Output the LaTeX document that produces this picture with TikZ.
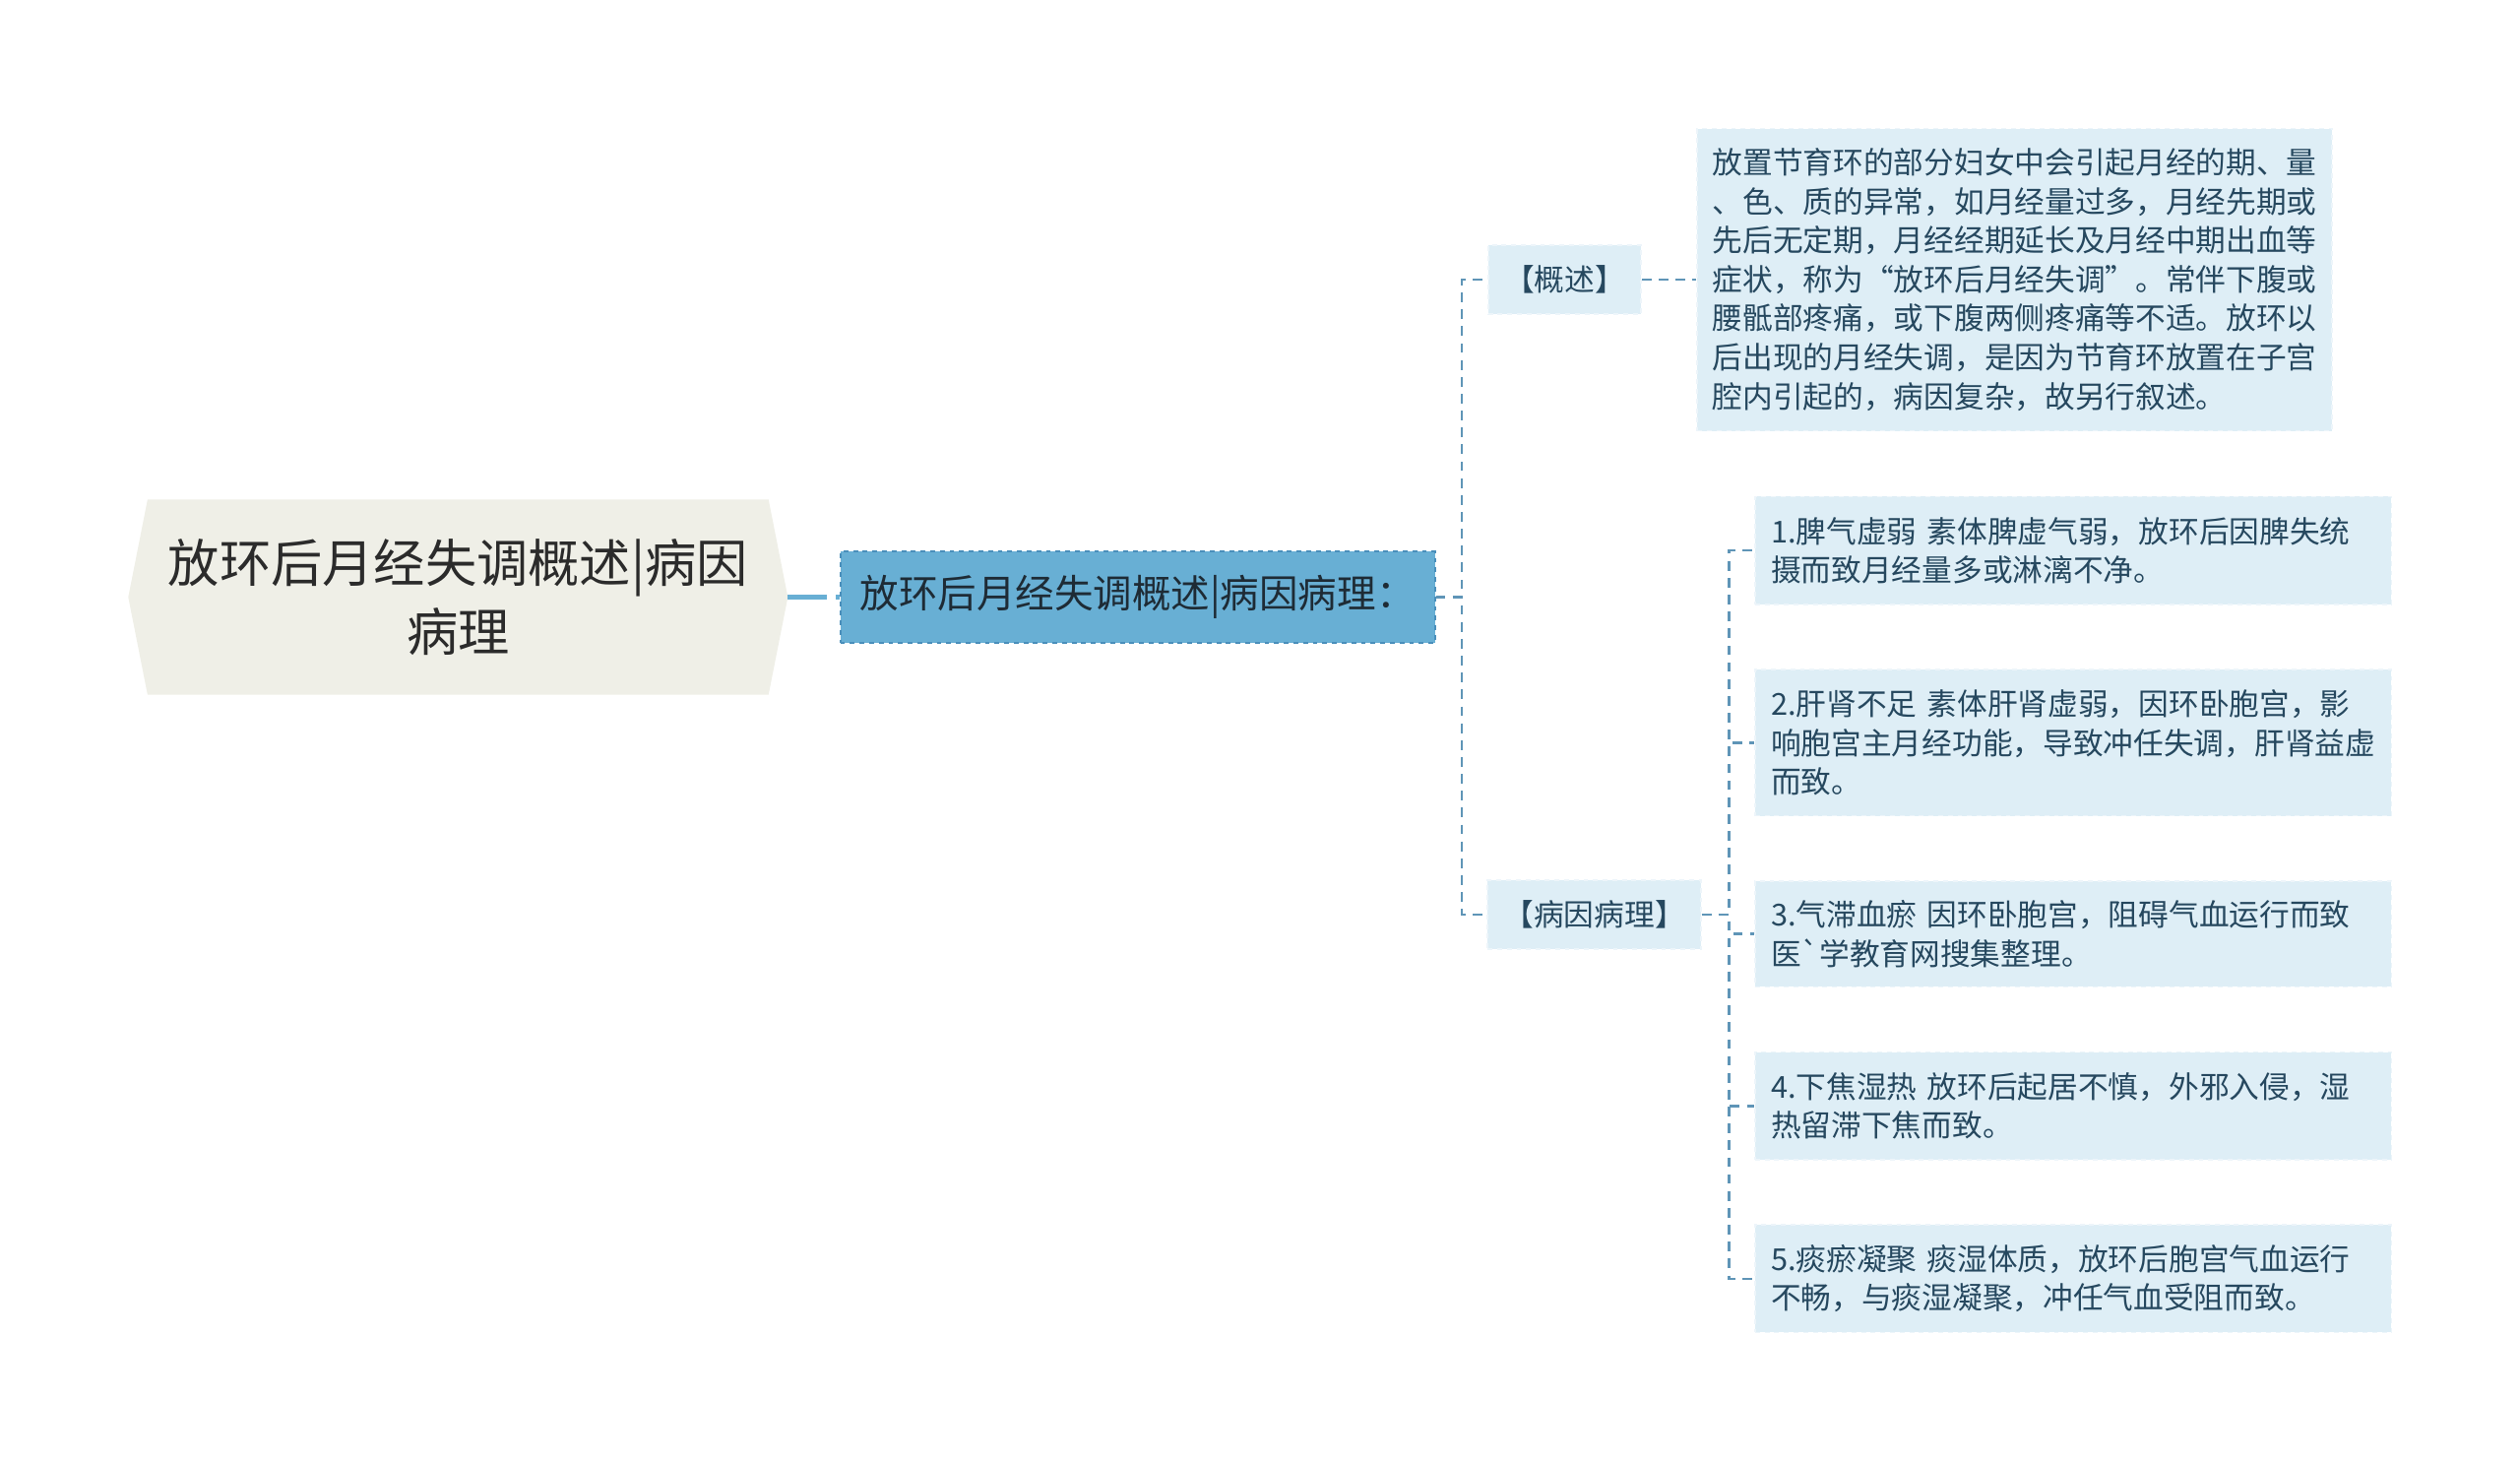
\documentclass[tikz,border=0pt]{standalone}
\usepackage{fontspec}
\setmainfont{Noto Sans CJK SC}
\usetikzlibrary{positioning, backgrounds}

\definecolor{rootfill}{HTML}{EFEFE7}
\definecolor{roottext}{HTML}{2B2B2B}
\definecolor{mainfill}{HTML}{68AFD4}
\definecolor{mainedge}{HTML}{4A8FBB}
\definecolor{maintext}{HTML}{1E2B35}
\definecolor{leaffill}{HTML}{DEEEF6}
\definecolor{leafedge}{HTML}{EDF5FA}
\definecolor{leaftext}{HTML}{26485F}
\definecolor{linkcol}{HTML}{5F95B7}

\tikzset{
  leaf/.style={rectangle, fill=leaffill, draw=leafedge, dashed, line width=1pt, text=leaftext,
    font=\fontsize{18.8}{24.2}\selectfont, align=left, inner xsep=10pt},
  link/.style={draw=linkcol, line width=1.5pt, dash pattern=on 6pt off 4.5pt},
  mainlink/.style={draw=mainfill, line width=2.6pt, dash pattern=on 24pt off 6pt},
}

\begin{document}
\begin{tikzpicture}[x=1pt, y=-1pt]
\useasboundingbox (0,0) rectangle (1568,910);
\node[minimum width=410pt, minimum height=121pt, text=roottext, font=\fontsize{32}{43}\selectfont, align=center] (root) at (285,371.5) {放环后月经失调概述|病因\\病理};
\begin{scope}[on background layer]
\fill[rootfill] (root.west) -- ([xshift=12pt]root.north west) -- ([xshift=-12pt]root.north east) -- (root.east) -- ([xshift=-12pt]root.south east) -- ([xshift=12pt]root.south west) -- cycle;
\end{scope}
\node[fill=mainfill, draw=mainedge, dashed, line width=1.2pt, minimum width=370pt, minimum height=57pt, text=maintext, font=\fontsize{24.2}{28}\selectfont, right=32pt of root] (topic) {放环后月经失调概述|病因病理：};
\node[leaf, minimum width=95pt, minimum height=43pt] (gaishu) at (973.5,174) {【概述】};
\node[leaf, text width=376pt, inner xsep=9.5pt, minimum height=188pt, right=34pt of gaishu] (desc) {放置节育环的部分妇女中会引起月经的期、量\\、色、质的异常，如月经量过多，月经先期或\\先后无定期，月经经期延长及月经中期出血等\\症状，称为“放环后月经失调”。常伴下腹或\\腰骶部疼痛，或下腹两侧疼痛等不适。放环以\\后出现的月经失调，是因为节育环放置在子宫\\腔内引起的，病因复杂，故另行叙述。};
\node[leaf, minimum width=132pt, minimum height=43pt] (bingyin) at (992,569) {【病因病理】};
\node[leaf, text width=376pt, minimum height=67pt] (item1) at (1290,342.5) {1.脾气虚弱 素体脾虚气弱，放环后因脾失统\\摄而致月经量多或淋漓不净。};
\node[leaf, text width=376pt, minimum height=91pt, below=39.5pt of item1] (item2) {2.肝肾不足 素体肝肾虚弱，因环卧胞宫，影\\响胞宫主月经功能，导致冲任失调，肝肾益虚\\而致。};
\node[leaf, text width=376pt, minimum height=66pt, below=39.5pt of item2] (item3) {3.气滞血瘀 因环卧胞宫，阻碍气血运行而致\\医\textasciigrave 学教育网搜集整理。};
\node[leaf, text width=376pt, minimum height=67pt, below=39.5pt of item3] (item4) {4.下焦湿热 放环后起居不慎，外邪入侵，湿\\热留滞下焦而致。};
\node[leaf, text width=376pt, minimum height=67pt, below=39.5pt of item4] (item5) {5.痰瘀凝聚 痰湿体质，放环后胞宫气血运行\\不畅，与痰湿凝聚，冲任气血受阻而致。};
% connectors
\draw[mainlink] (root.east) -- (topic.west);
\draw[link] (topic.east) -- ++(16pt,0) |- (gaishu.west);
\draw[link] (topic.east) -- ++(16pt,0) |- (bingyin.west);
\draw[link] (gaishu.east) -- (desc.west);
\foreach \i in {1,...,5}
  \draw[link] (bingyin.east) -- ++(17pt,0) |- (item\i.west);
\end{tikzpicture}
\end{document}
